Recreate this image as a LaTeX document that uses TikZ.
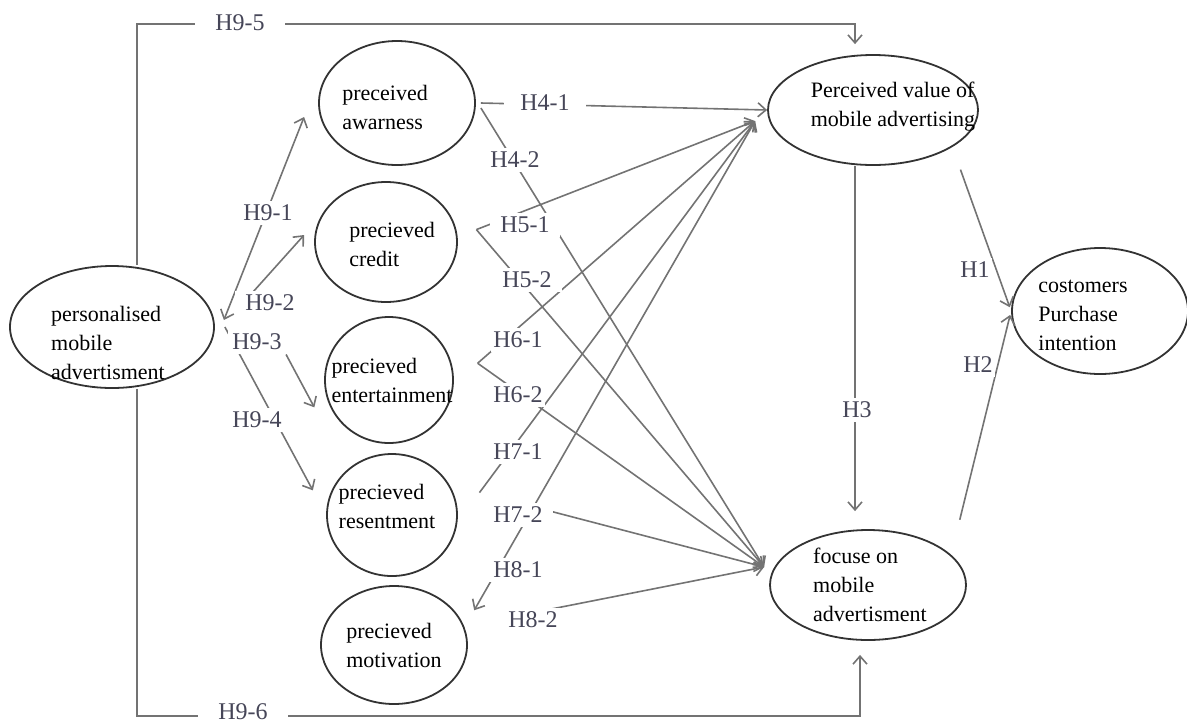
\documentclass[tikz,border=0pt]{standalone}
\usepackage{fontspec}
\setmainfont{Liberation Serif}
\usetikzlibrary{shapes.geometric}
\usetikzlibrary{arrows.meta}
\definecolor{linegray}{RGB}{115,115,115}
\definecolor{hypgray}{RGB}{70,70,88}
\tikzset{
	latent/.style={draw=black!80, line width=0.9pt, ellipse, inner sep=0pt},
	txt/.style={align=left, font=\fontsize{11}{14.5}\selectfont},
	conn/.style={draw=linegray, line width=0.8pt, ->, >={Straight Barb[length=4pt,width=7pt]}},
	hypo/.style={fill=white, inner xsep=5pt, inner ysep=2pt, text=hypgray, font=\fontsize{12}{14}\selectfont},
}

\begin{document}
\begin{tikzpicture}[x=0.5pt, y=-0.5pt]
		\useasboundingbox (0,0) rectangle (1187,724);
		% constructs
		\node[latent, minimum width=102pt, minimum height=61pt, label={[txt, xshift=-2pt, yshift=-8pt]center:{personalised\\mobile\\advertisment}}] (pma) at (112,327) {};
		\node[latent, minimum width=78pt, minimum height=62pt, label={[txt, xshift=-6pt, yshift=-2pt]center:{preceived\\awarness}}] (aw) at (397,103) {};
		\node[latent, minimum width=71pt, minimum height=60pt, label={[txt, xshift=3pt, yshift=-1pt]center:{precieved\\credit}}] (cr) at (386,242) {};
		\node[latent, minimum width=64pt, minimum height=63pt, label={[txt, xshift=1.5pt]center:{precieved\\entertainment}}] (en) at (389,380) {};
		\node[latent, minimum width=65pt, minimum height=61pt, label={[txt, xshift=-2.5pt, yshift=4.5pt]center:{precieved\\resentment}}] (rs) at (392,515) {};
		\node[latent, minimum width=73pt, minimum height=59pt, label={[txt]center:{precieved\\motivation}}] (mo) at (394,645) {};
		\node[latent, minimum width=105pt, minimum height=55pt, label={[txt, xshift=10pt, yshift=1.5pt]center:{Perceived value of\\mobile advertising}}] (pv) at (873,110) {};
		\node[latent, minimum width=98pt, minimum height=55pt, label={[txt, xshift=1pt]center:{focuse on\\mobile\\advertisment}}] (fo) at (868,585) {};
		\node[latent, minimum width=88pt, minimum height=63pt, label={[txt, xshift=-8.5pt, yshift=-2pt]center:{costomers\\Purchase\\intention}}] (co) at (1100,311) {};

		% meeting points of the arrows
		\coordinate (pvIn) at ([xshift=-6pt,yshift=-5.5pt]pv.west);
		\coordinate (foIn) at ([xshift=-2.5pt,yshift=9pt]fo.west);

		% H4 - H8
		\draw[conn] ([xshift=2.5pt]aw.east) -- (pv.west);
		\draw[conn] ([xshift=2.5pt,yshift=-2.5pt]aw.east) -- (foIn);
		\draw[conn] ([xshift=10pt]cr.10) -- (pvIn);
		\draw[conn] ([xshift=10pt]cr.10) -- (foIn);
		\draw[conn] ([xshift=13pt]en.15) -- (pvIn);
		\draw[conn] ([xshift=13pt]en.15) -- (foIn);
		\draw[conn] ([xshift=13pt]rs.20) -- (pvIn);
		\draw[conn, shorten <=22pt] ([xshift=13pt]rs.20) -- (foIn);
		\draw[conn, <->] ([xshift=10pt]mo.30) -- (pvIn);
		\draw[conn, shorten <=24pt] (mo.15) -- (foIn);

		% H1 - H3
		\draw[conn, shorten >=9pt] ([xshift=-9pt]pv.south) -- ([xshift=-6.5pt]fo.north);
		\draw[conn, shorten <=12pt, shorten >=2pt] (pv.-25) -- (co.west);
		\draw[conn, shorten <=18pt, shorten >=2pt] (fo.20) -- (co.west);

		% H9
		\draw[conn, <->] ([xshift=4.5pt,yshift=3.5pt]pma.east) -- ([xshift=-7pt,yshift=-7pt]aw.west);
		\draw[conn, shorten <=25pt] ([xshift=2pt,yshift=-1.5pt]pma.east) -- ([xshift=-5pt,yshift=3.5pt]cr.west);
		\draw[conn, shorten >=14pt] ([xshift=5pt]pma.east) -- (rs.west);
		\draw[conn, shorten >=5pt] ([xshift=12.5pt]pma.north) |- ([xshift=-9pt,yshift=15pt]pv.north) -- ([xshift=-9pt]pv.north);
		\draw[conn, shorten >=7pt] ([xshift=12.5pt]pma.south) |- ([xshift=-4pt,yshift=-37.5pt]fo.south) -- ([xshift=-4pt]fo.south);

		% hypotheses
		\node[hypo, inner xsep=10pt] (h95) at (240,23) {H9-5};
		\node[hypo, inner xsep=10pt, inner ysep=0pt] (h96) at (243,712) {H9-6};
		\node[hypo] (h91) at (268,213) {H9-1};
		\node[hypo] (h92) at (270,303) {H9-2};
		\node[hypo, inner xsep=2pt] (h93) at (257,342) {H9-3};
		\node[hypo] (h94) at (257,420) {H9-4};
		\node[hypo, inner xsep=8pt] (h41) at (545,103) {H4-1};
		\node[hypo] (h42) at (515,160) {H4-2};
		\node[hypo] (h51) at (525,225) {H5-1};
		\node[hypo] (h52) at (527,280) {H5-2};
		\node[hypo, inner xsep=1pt] (h61) at (518,340) {H6-1};
		\node[hypo, inner xsep=1pt] (h62) at (518,395) {H6-2};
		\node[hypo] (h71) at (518,452) {H7-1};
		\node[hypo] (h72) at (518,515) {H7-2};
		\node[hypo] (h81) at (518,570) {H8-1};
		\node[hypo] (h82) at (533,620) {H8-2};
		\node[hypo] (h3) at (857,410) {H3};
		\node[hypo, inner xsep=1pt] (h1) at (975,270) {H1};
		\node[hypo, inner xsep=1pt] (h2) at (978,365) {H2};

		\draw[conn] (h93.south east) -- ([xshift=-8pt]en.205);
	\end{tikzpicture}
\end{document}
